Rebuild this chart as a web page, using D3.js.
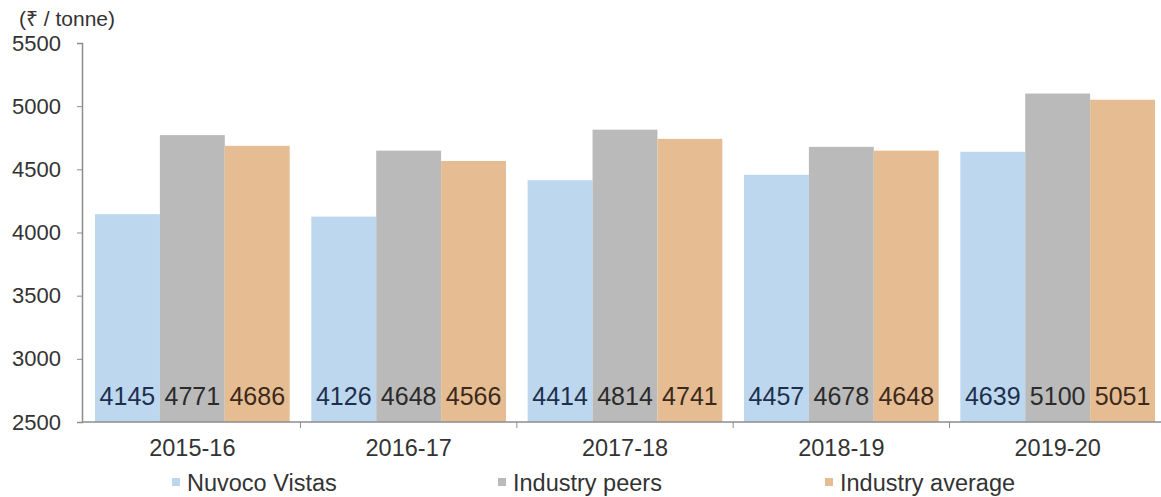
<!DOCTYPE html>
<html>
<head>
<meta charset="utf-8">
<script src="https://cdn.jsdelivr.net/npm/d3@7"></script>
<style>
  html, body { margin: 0; padding: 0; background: #fff; }
  svg { display: block; font-family: "Liberation Sans", Arial, sans-serif; }
</style>
</head>
<body>
<svg id="chart" width="1161" height="497"></svg>
<script>
const categories = ["2015-16", "2016-17", "2017-18", "2018-19", "2019-20"];
const seriesNames = ["Nuvoco Vistas", "Industry peers", "Industry average"];
const nuvocoVistas = [4145, 4126, 4414, 4457, 4639];
const industryPeers = [4771, 4648, 4814, 4678, 5100];
const industryAverage = [4686, 4566, 4741, 4648, 5051];
const yTickValues = [2500, 3000, 3500, 4000, 4500, 5000, 5500];
const unitLabel = "(₹ / tonne)";

(function () {
const seriesValues = [nuvocoVistas, industryPeers, industryAverage];
const barColors = ["#bdd7ee", "#bababa", "#e6bd93"];
const labelColors = ["#1e2f4d", "#2b2b2b", "#3b2a1c"];

const svg = d3.select("#chart");
const mLeft = 82, mBottom = 422, mTop = 43, mRight = 1168;

const x = d3.scaleBand().domain(categories).range([mLeft, mRight])
  .paddingInner(0.1).paddingOuter(0.06);
const x1 = d3.scaleBand().domain(seriesNames).range([0, x.bandwidth()]);
const y = d3.scaleLinear().domain([2500, 5500]).range([mBottom, mTop]);

// bars
const groups = svg.append("g").selectAll("g")
  .data(categories).join("g")
  .attr("transform", d => `translate(${x(d)},0)`);

groups.selectAll("rect")
  .data((c, i) => seriesNames.map((s, j) => ({ s, j, v: seriesValues[j][i] })))
  .join("rect")
  .attr("x", d => x1(d.s))
  .attr("y", d => y(d.v))
  .attr("width", x1.bandwidth())
  .attr("height", d => y(2500) - y(d.v))
  .attr("fill", d => barColors[d.j]);

groups.selectAll("text")
  .data((c, i) => seriesNames.map((s, j) => ({ s, j, v: seriesValues[j][i] })))
  .join("text")
  .attr("x", d => x1(d.s) + x1.bandwidth() / 2)
  .attr("y", 405)
  .attr("text-anchor", "middle")
  .attr("font-size", 25)
  .attr("fill", d => labelColors[d.j])
  .text(d => d.v);

// y axis
const yAxis = svg.append("g").attr("transform", `translate(${mLeft},0)`)
  .call(d3.axisLeft(y).tickValues(yTickValues).tickSize(5).tickPadding(16).tickFormat(d3.format("d")));
yAxis.select(".domain").attr("stroke", "#8c8c8c").attr("stroke-width", 1.5);
yAxis.selectAll(".tick line").attr("stroke", "#8c8c8c");
yAxis.selectAll(".tick text").attr("font-size", 22).attr("fill", "#333")
  .attr("font-family", "Liberation Sans, Arial, sans-serif");

// x axis
const xAxis = svg.append("g").attr("transform", `translate(0,${mBottom})`);
xAxis.append("line").attr("x1", mLeft).attr("x2", mRight).attr("stroke", "#8c8c8c").attr("stroke-width", 1.5);
const step = x.step();
xAxis.selectAll("line.tk").data(categories.slice(0, -1)).join("line")
  .attr("class", "tk")
  .attr("x1", d => x(d) + x.bandwidth() + step * x.paddingInner() / 2)
  .attr("x2", d => x(d) + x.bandwidth() + step * x.paddingInner() / 2)
  .attr("y1", 0).attr("y2", 6).attr("stroke", "#8c8c8c");
xAxis.selectAll("text").data(categories).join("text")
  .attr("x", d => x(d) + x.bandwidth() / 2)
  .attr("y", 34)
  .attr("text-anchor", "middle")
  .attr("font-size", 23.5)
  .attr("fill", "#333")
  .text(d => d);

// unit label
svg.append("text").attr("x", 19).attr("y", 26)
  .attr("font-size", 21).attr("fill", "#333").text(unitLabel);

// legend
const legendX = [172, 498, 825];
const legend = svg.append("g").selectAll("g").data(seriesNames).join("g")
  .attr("transform", (d, i) => `translate(${legendX[i]},482)`);
legend.append("rect").attr("x", 0).attr("y", -4).attr("width", 8).attr("height", 8)
  .attr("fill", (d, i) => barColors[i]);
legend.append("text").attr("x", 15).attr("y", 8.5)
  .attr("font-size", 23.5).attr("fill", "#333").text(d => d);
})();
</script>
</body>
</html>
